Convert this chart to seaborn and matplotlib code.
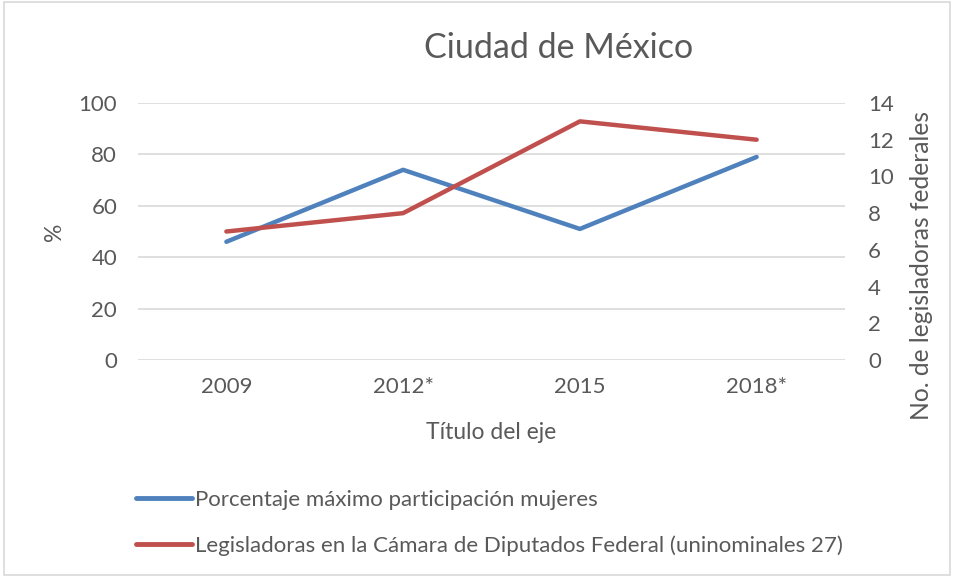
import pandas as pd
import matplotlib
matplotlib.use("Agg")
import matplotlib.pyplot as plt
import seaborn as sns
from matplotlib.patches import Rectangle
from matplotlib.lines import Line2D

# data
years = ["2009", "2012*", "2015", "2018*"]
pct_max_mujeres = [46, 74, 51, 79]
legisladoras = [7, 8, 13, 12]

label_pct = "Porcentaje máximo participación mujeres"
label_leg = "Legisladoras en la Cámara de Diputados Federal (uninominales 27)"

blue = "#4F81BD"
red = "#C0504D"
grey_txt = "#595959"
grid_col = "#D9D9D9"

sns.set_theme(style="white")
plt.rcParams["font.family"] = ["Lato", "DejaVu Sans"]

df = pd.DataFrame({"year": years, "pct": pct_max_mujeres, "leg": legisladoras})
df["x"] = range(len(years))

fig = plt.figure(figsize=(9.54, 5.77), dpi=100)
ax = fig.add_axes([138 / 954, 1 - 360 / 577, (845 - 138) / 954, (360 - 103) / 577])
ax2 = ax.twinx()

sns.lineplot(data=df, x="x", y="pct", ax=ax, color=blue, linewidth=3.2,
             solid_capstyle="round", solid_joinstyle="round")
sns.lineplot(data=df, x="x", y="leg", ax=ax2, color=red, linewidth=3.2,
             solid_capstyle="round", solid_joinstyle="round")

ax.set_xlim(-0.5, len(years) - 0.5)
ax.set_ylim(0, 100)
ax2.set_ylim(0, 14)
ax.set_yticks(range(0, 101, 20))
ax2.set_yticks(range(0, 15, 2))
ax.set_xticks(df["x"])
ax.set_xticklabels(years)

ax.yaxis.grid(True, color=grid_col, linewidth=1.2)
ax.set_axisbelow(True)
for a in (ax, ax2):
    for s in a.spines.values():
        s.set_visible(False)
    a.tick_params(length=0, labelsize=16, colors=grey_txt)
ax.tick_params(axis="y", pad=15)
ax2.tick_params(axis="y", pad=16.5)
ax.tick_params(axis="x", pad=12)

ax.set_xlabel("Título del eje", fontsize=16.5, color=grey_txt, labelpad=18)
ax.set_ylabel("%", fontsize=16.5, color=grey_txt, labelpad=10)
ax2.set_ylabel("No. de legisladoras federales", fontsize=17.7, color=grey_txt, labelpad=12)
ax2.yaxis.label.set_y(0.366)

fig.text(559 / 954, 1 - 48 / 577, "Ciudad de México", fontsize=24.5, color=grey_txt,
         ha="center", va="center")

handles = [Line2D([], [], color=blue, linewidth=3.5, solid_capstyle="round"),
           Line2D([], [], color=red, linewidth=3.5, solid_capstyle="round")]
fig.legend(handles, [label_pct, label_leg], loc="upper left",
           bbox_to_anchor=(136 / 954, 1 - 490 / 577), frameon=False,
           fontsize=16, labelcolor=grey_txt, handlelength=2.5, handletextpad=0.15,
           labelspacing=1.15, borderaxespad=0, borderpad=0)

fig.patches.append(Rectangle((0.004, 0.004), 0.992, 0.992, transform=fig.transFigure,
                             fill=False, edgecolor="#D9D9D9", linewidth=1.2))

fig.savefig("out.png", dpi=100)
